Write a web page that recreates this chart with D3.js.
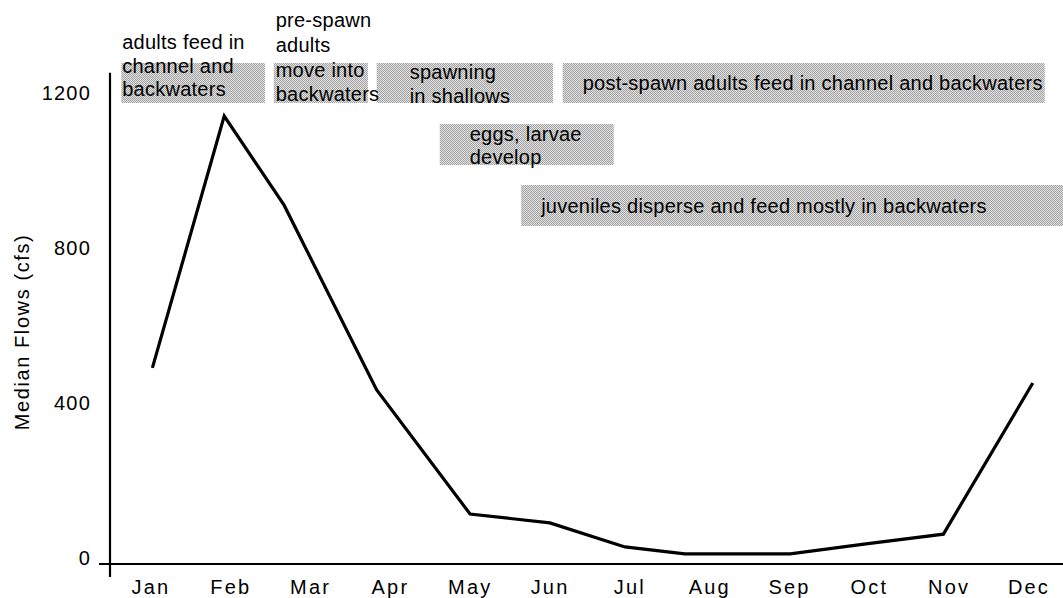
<!DOCTYPE html>
<html>
<head>
<meta charset="utf-8">
<script src="https://cdn.jsdelivr.net/npm/d3@7/dist/d3.min.js"></script>
<style>
  html, body { margin: 0; padding: 0; background: #fff; }
  svg { display: block; }
  text { font-family: "Liberation Sans", Arial, sans-serif; fill: #000; }
</style>
</head>
<body>
<svg id="chart" width="1063" height="598"></svg>
<script>
// ---- data ----
const months = ["Jan","Feb","Mar","Apr","May","Jun","Jul","Aug","Sep","Oct","Nov","Dec"];
const monthPos = [0.03, 0.93, 1.68, 2.84, 4.01, 5.01, 5.95, 6.70, 8.02, 8.97, 9.94, 11.06];
const medianFlow = [506, 1156, 926, 449, 129, 106, 44, 26, 26, 52, 77, 467];
const yTicks = [0, 400, 800, 1200];
const yAxisTitle = "Median Flows (cfs)";

const phaseText = [
  ["adults feed in", "channel and", "backwaters"],
  ["pre-spawn", "adults", "move into", "backwaters"],
  ["spawning", "in shallows"],
  ["post-spawn adults feed in channel and backwaters"],
  ["eggs, larvae", "develop"],
  ["juveniles disperse and feed mostly in backwaters"]
];
const phaseStart = [-0.36, 1.55, 2.84, 5.17, 3.63, 4.65];
const phaseEnd   = [1.44, 2.73, 5.05, 11.21, 5.81, 11.44];

// ---- layout (pixels) ----
const layout = [
  { top: 63, h: 40, dx: 1,  lineY: [42, 66, 89] },
  { top: 63, h: 40, dx: 2,  lineY: [20, 45, 70, 94] },
  { top: 63, h: 40, dx: 33, lineY: [72, 96] },
  { top: 63, h: 40, dx: 20, lineY: [83] },
  { top: 124, h: 41, dx: 30, lineY: [134, 157] },
  { top: 185, h: 41, dx: 20, lineY: [206] }
];

const svg = d3.select("#chart");

// dither pattern for the gray boxes
const defs = svg.append("defs");
const pat = defs.append("pattern").attr("id", "dither")
  .attr("patternUnits", "userSpaceOnUse").attr("width", 2).attr("height", 2);
pat.append("rect").attr("width", 2).attr("height", 2).attr("fill", "#e2e2e2");
pat.append("rect").attr("x", 0).attr("y", 0).attr("width", 1).attr("height", 1).attr("fill", "#a2a2a2");
pat.append("rect").attr("x", 1).attr("y", 1).attr("width", 1).attr("height", 1).attr("fill", "#a2a2a2");

const x = d3.scaleLinear().domain([0, 11]).range([150, 1028]);
const y = d3.scaleLinear().domain([0, 1200]).range([564, 99]);
const axisX0 = 110;

// phase boxes
phaseText.forEach((lines, i) => {
  const L = layout[i];
  const x0 = x(phaseStart[i]), x1 = x(phaseEnd[i]);
  svg.append("rect")
    .attr("x", x0).attr("y", L.top)
    .attr("width", x1 - x0).attr("height", L.h)
    .attr("fill", "url(#dither)");
});
phaseText.forEach((lines, i) => {
  const L = layout[i];
  const x0 = x(phaseStart[i]);
  lines.forEach((t, j) => {
    svg.append("text")
      .attr("x", x0 + L.dx).attr("y", L.lineY[j])
      .attr("dy", "0.36em")
      .attr("font-size", 20)
      .attr("letter-spacing", 0.25)
      .text(t);
  });
});

// axes lines
svg.append("line")
  .attr("x1", axisX0).attr("x2", axisX0)
  .attr("y1", y(1268)).attr("y2", y(0) + 13)
  .attr("stroke", "#000").attr("stroke-width", 2.2);
svg.append("line")
  .attr("x1", axisX0 - 11).attr("x2", 1063)
  .attr("y1", y(0)).attr("y2", y(0))
  .attr("stroke", "#000").attr("stroke-width", 2.2);

// y tick labels
svg.selectAll(".ytick").data(yTicks).enter().append("text")
  .attr("class", "ytick")
  .attr("x", 91).attr("y", d => y(d) - 6)
  .attr("dy", "0.36em")
  .attr("text-anchor", "end")
  .attr("font-size", 20)
  .attr("letter-spacing", 1.2)
  .text(d => d);

// x labels
svg.selectAll(".xtick").data(months).enter().append("text")
  .attr("class", "xtick")
  .attr("x", (d, i) => x(i) + 1).attr("y", 587)
  .attr("dy", "0.36em")
  .attr("text-anchor", "middle")
  .attr("font-size", 20)
  .attr("letter-spacing", 2.2)
  .text(d => d);

// y axis title
svg.append("text")
  .attr("transform", `translate(22,${332}) rotate(-90)`)
  .attr("dy", "0.36em")
  .attr("text-anchor", "middle")
  .attr("font-size", 20)
  .attr("letter-spacing", 1.6)
  .text(yAxisTitle);

// line
const line = d3.line()
  .x((d, i) => x(monthPos[i]))
  .y(d => y(d));
svg.append("path")
  .datum(medianFlow)
  .attr("d", line)
  .attr("fill", "none")
  .attr("stroke", "#000")
  .attr("stroke-width", 3.2)
  .attr("stroke-linejoin", "miter");
</script>
</body>
</html>
